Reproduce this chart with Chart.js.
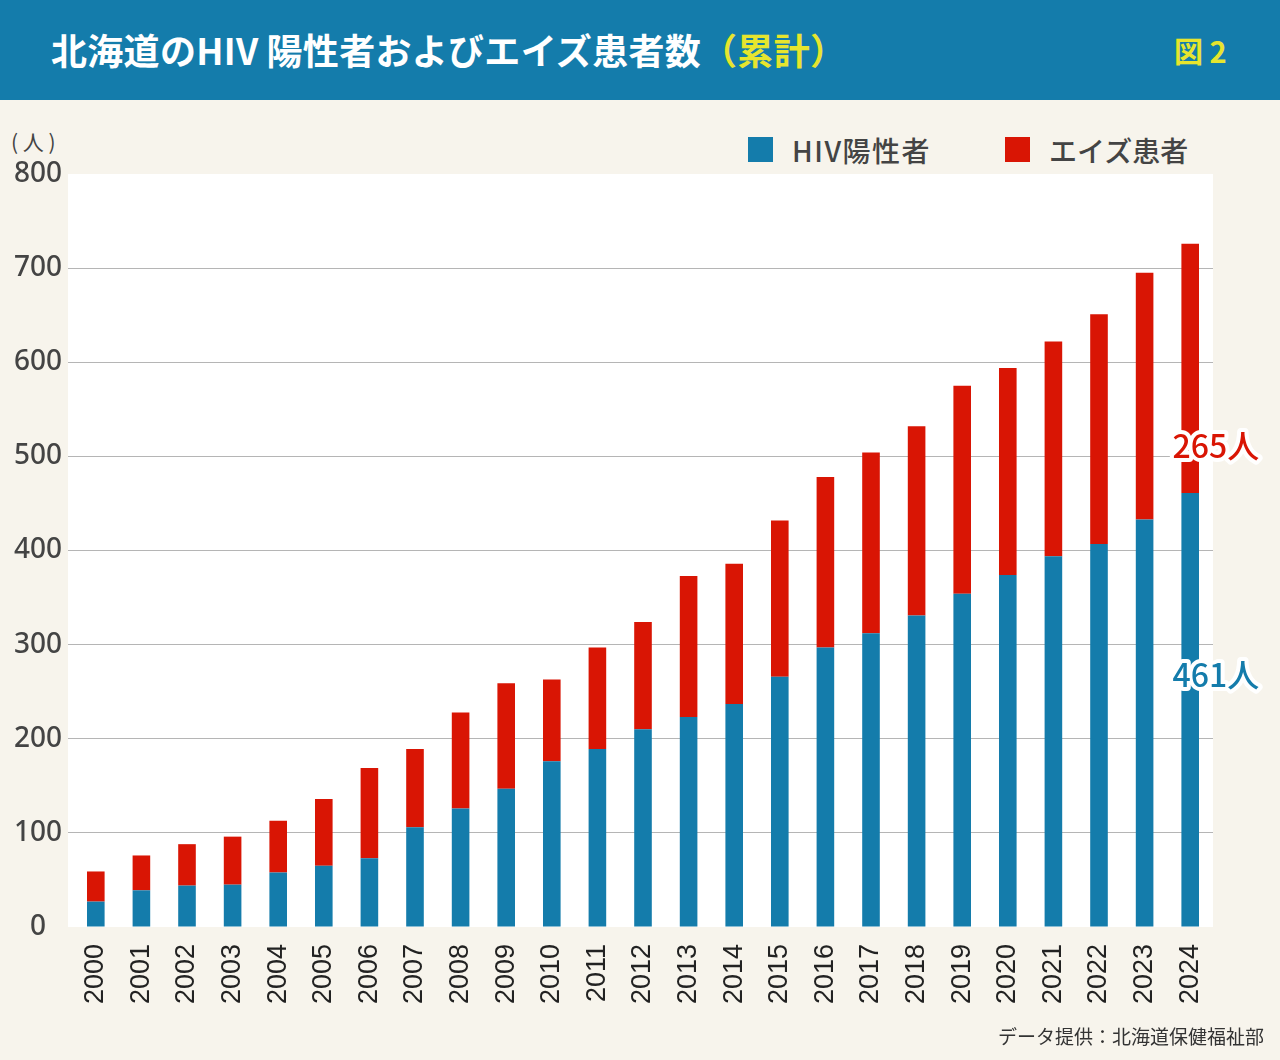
<!DOCTYPE html>
<html lang="ja">
<head>
<meta charset="utf-8">
<script src="https://cdn.jsdelivr.net/npm/chart.js@4.4.1/dist/chart.umd.min.js"></script>
<style>
	html, body { margin: 0; padding: 0; }
	body {
		width: 1280px;
		height: 1060px;
		position: relative;
		overflow: hidden;
		background: #F7F4EC;
		font-family: "Noto Sans CJK JP", "Noto Sans", sans-serif;
	}
	.header {
		position: absolute;
		left: 0; top: 0;
		width: 1280px; height: 100px;
		background: #147CAB;
	}
	.title {
		position: absolute;
		left: 51px; top: 24px;
		font-size: 36px;
		font-weight: bold;
		line-height: 50px;
		color: #fff;
		letter-spacing: 0.3px;
		white-space: nowrap;
	}
	.title .sp { display: inline-block; width: 8px; }
	.title .sub { color: #E6E52E; }
	.fig {
		position: absolute;
		left: 1174px; top: 30px;
		font-size: 29px;
		font-weight: bold;
		line-height: 40px;
		color: #E6E52E;
		white-space: nowrap;
	}
	.unit {
		position: absolute;
		left: 11px; top: 126px;
		font-size: 21px;
		line-height: 30px;
		color: #444;
		white-space: nowrap;
	}
	.legend-item {
		position: absolute;
		top: 131px;
		height: 38px;
		font-size: 28px;
		line-height: 38px;
		color: #444;
		font-weight: 500;
	}
	.legend-item i {
		position: absolute;
		left: 0; top: 6px;
		width: 25px; height: 25px;
	}
	.legend-item span { position: absolute; left: 44px; top: 0; white-space: nowrap; }
	.legend-item .hiv { letter-spacing: 1.5px; }
	.source {
		position: absolute;
		right: 16px; top: 1022px;
		font-size: 19px;
		line-height: 28px;
		color: #333;
	}
	.chart-box {
		position: absolute;
		left: 0; top: 100px;
		width: 1280px; height: 960px;
	}
</style>
</head>
<body>
<div class="header">
	<div class="title">北海道のHIV<span class="sp"></span>陽性者およびエイズ患者数<span class="sub">（累計）</span></div>
	<div class="fig">図 2</div>
</div>
<div class="unit">( 人 )</div>
<div class="legend-item" style="left:748px"><i style="background:#147CAB"></i><span class="hiv">HIV陽性者</span></div>
<div class="legend-item" style="left:1005px"><i style="background:#D91504"></i><span>エイズ患者</span></div>
<div class="chart-box"><canvas id="chartHiv"></canvas></div>
<div class="source">データ提供：北海道保健福祉部</div>

<script>
'use strict'

const years = ['2000', '2001', '2002', '2003', '2004', '2005', '2006', '2007', '2008', '2009', '2010', '2011', '2012',
	'2013', '2014', '2015', '2016', '2017', '2018', '2019', '2020', '2021', '2022', '2023', '2024'];

// cumulative HIV positives (bottom segment)
const hivPositive = [27, 39, 44, 45, 58, 65, 73, 106, 126, 147, 176, 189, 210,
	223, 237, 266, 297, 312, 331, 354, 374, 394, 407, 433, 461];

// cumulative AIDS patients (top segment)
const aidsPatients = [32, 37, 44, 51, 55, 71, 96, 83, 102, 112, 87, 108, 114,
	150, 149, 166, 181, 192, 201, 221, 220, 228, 244, 262, 265];

const yTicks = [0, 100, 200, 300, 400, 500, 600, 700, 800];

const colors = {
	blue: '#147CAB',
	red: '#D91504',
	grid: '#B5B5B5',
	tickText: '#444444',
	yearText: '#222222',
};

// white plot background, stretched under the short grid ticks on the left
const plotBackground = {
	id: 'plotBackground',
	beforeDraw: function (chart) {
		const area = chart.chartArea;
		const tl = chart.scales.y.options.grid.tickLength;
		const ctx = chart.ctx;
		ctx.save();
		ctx.fillStyle = '#FFFFFF';
		ctx.fillRect(area.left - tl, area.top, area.right - area.left + tl, area.bottom - area.top);
		ctx.restore();
	},
};

// "461人" / "265人" call-outs on the last bar
const lastBarLabels = {
	id: 'lastBarLabels',
	afterDatasetsDraw: function (chart) {
		const ctx = chart.ctx;
		const last = years.length - 1;
		const items = [
			{ ds: 0, text: hivPositive[last] + '人', color: colors.blue, at: 0.58 },
			{ ds: 1, text: aidsPatients[last] + '人', color: colors.red, at: 0.19 },
		];
		ctx.save();
		ctx.font = '500 32px "Noto Sans CJK JP", sans-serif';
		ctx.textAlign = 'left';
		ctx.textBaseline = 'middle';
		ctx.lineJoin = 'round';
		items.forEach(function (item) {
			const bar = chart.getDatasetMeta(item.ds).data[last];
			const x = bar.x - bar.width;
			const y = bar.base + (bar.y - bar.base) * item.at;
			ctx.strokeStyle = '#FFFFFF';
			ctx.lineWidth = 8;
			ctx.strokeText(item.text, x, y);
			ctx.fillStyle = item.color;
			ctx.fillText(item.text, x, y);
		});
		ctx.restore();
	},
};

let chartHiv = new Chart(document.getElementById('chartHiv'), {
	type: 'bar',
	data: {
		labels: years,
		datasets: [
			{
				label: 'HIV陽性者',
				data: hivPositive,
				backgroundColor: colors.blue,
				borderWidth: 0,
			},
			{
				label: 'エイズ患者',
				data: aidsPatients,
				backgroundColor: colors.red,
				borderWidth: 0,
			},
		],
	},
	options: {
		responsive: true,
		maintainAspectRatio: false,
		animation: false,
		devicePixelRatio: 1,
		layout: {
			padding: { top: 74, right: 67, left: 0, bottom: 0 },
		},
		datasets: {
			bar: {
				categoryPercentage: 1,
				barPercentage: 0.386,
			},
		},
		plugins: {
			legend: { display: false },
			tooltip: { enabled: false },
		},
		scales: {
			x: {
				stacked: true,
				offset: true,
				grid: { display: false },
				border: { display: false },
				ticks: {
					autoSkip: false,
					minRotation: 90,
					maxRotation: 90,
					padding: 9,
					color: colors.yearText,
					font: { family: '"Liberation Sans", Arial, sans-serif', size: 27 },
				},
				afterFit: function (axis) {
					axis.height = 133;
				},
			},
			y: {
				stacked: true,
				min: 0,
				max: 800,
				afterBuildTicks: function (axis) {
					axis.ticks = yTicks.map(function (v) { return { value: v }; });
				},
				grid: {
					color: function (c) {
						if (c.tick && (c.tick.value === 0 || c.tick.value === 800)) return 'rgba(0,0,0,0)';
						return colors.grid;
					},
					lineWidth: 1,
					drawTicks: true,
					tickLength: 5,
				},
				border: { display: false },
				ticks: {
					crossAlign: 'center',
					padding: 6,
					color: colors.tickText,
					font: { family: '"Noto Sans", sans-serif', size: 28, weight: '500' },
				},
				afterFit: function (axis) {
					axis.width = 73;
				},
			},
		},
	},
	plugins: [plotBackground, lastBarLabels],
});
</script>
</body>
</html>
